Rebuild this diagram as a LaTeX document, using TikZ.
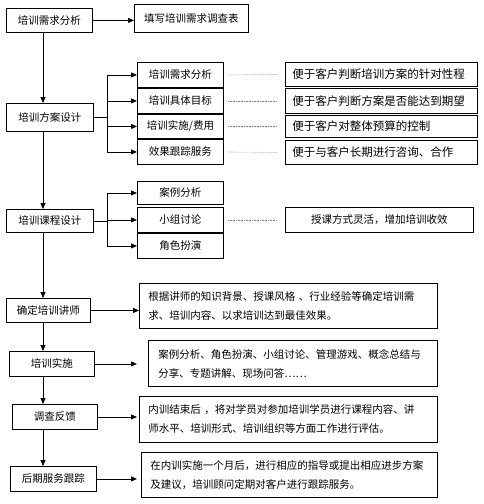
\documentclass[tikz,border=0pt]{standalone}
\usepackage{fontspec}
\setmainfont{Noto Sans CJK SC}
\usetikzlibrary{arrows.meta}
\begin{document}
\begin{tikzpicture}[x=1pt,y=-1pt,
  bx/.style={draw, line width=0.9pt, inner sep=0pt, anchor=north west, font=\fontsize{10.5}{19}\selectfont},
  tb/.style={bx, align=left, inner xsep=9pt},
  rb/.style={tb, inner xsep=7pt, text width=178pt, font=\fontsize{11.5}{19}\selectfont},
  arr/.style={-{Triangle[length=6pt,width=5pt]}, line width=0.8pt},
  ln/.style={line width=0.8pt},
  dotln/.style={densely dotted, gray, line width=0.6pt, shorten <=4pt, shorten >=8pt}]
\useasboundingbox (0,0) rectangle (483,504);
\coordinate (spine) at (43,0);
\coordinate (bus2) at (107,0);
\coordinate (bus3) at (107,0);
% main column
\node[bx, minimum width=86pt, minimum height=24pt] (m1) at (6,8) {培训需求分析};
\node[bx, minimum width=114pt, minimum height=28pt] (f1) at (134,4) {填写培训需求调查表};
\node[bx, minimum width=87pt, minimum height=28pt] (m2) at (6,103) {培训方案设计};
\node[bx, minimum width=87pt, minimum height=23pt] (m3) at (6,209) {培训课程设计};
\node[bx, minimum width=84pt, minimum height=24pt] (m4) at (6,298) {确定培训讲师};
\node[bx, minimum width=85pt, minimum height=25pt] (m5) at (9,351) {培训实施};
\node[bx, minimum width=85pt, minimum height=25pt] (m6) at (12,404) {调查反馈};
\node[bx, minimum width=86pt, minimum height=25pt] (m7) at (10,466) {后期服务跟踪};
% group 2
\node[bx, minimum width=86pt, minimum height=25pt] (s21) at (137,62) {培训需求分析};
\node[bx, minimum width=86pt, minimum height=25pt] (s22) at (137,88) {培训具体目标};
\node[bx, minimum width=86pt, minimum height=24pt] (s23) at (137,114) {培训实施/费用};
\node[bx, minimum width=86pt, minimum height=25pt] (s24) at (137,139) {效果跟踪服务};
\node[rb, minimum height=24pt] (r21) at (285,62) {便于客户判断培训方案的针对性程};
\node[rb, minimum height=25pt] (r22) at (285,88) {便于客户判断方案是否能达到期望};
\node[rb, minimum height=22pt] (r23) at (285,115) {便于客户对整体预算的控制};
\node[rb, minimum height=24pt] (r24) at (285,140) {便于与客户长期进行咨询、合作};
% group 3
\node[bx, minimum width=86pt, minimum height=23pt] (s31) at (137,181) {案例分析};
\node[bx, minimum width=86pt, minimum height=25pt] (s32) at (137,207) {小组讨论};
\node[bx, minimum width=86pt, minimum height=25pt] (s33) at (137,233) {角色扮演};
\node[bx, minimum width=188pt, minimum height=25pt] (r3) at (285,207) {授课方式灵活，增加培训收效};
% text boxes
\node[tb, text width=280pt, minimum height=45pt] (t4) at (139,283) {根据讲师的知识背景、授课风格 、行业经验等确定培训需\\求、培训内容、以求培训达到最佳效果。};
\node[tb, inner xsep=10pt, text width=269pt, minimum height=46pt] (t5) at (148,340) {案例分析、角色扮演、小组讨论、管理游戏、概念总结与\\分享、专题讲解、现场问答……};
\node[tb, text width=280pt, minimum height=46pt] (t6) at (139,396) {内训结束后 ，将对学员对参加培训学员进行课程内容、讲\\师水平、培训形式、培训组织等方面工作进行评估。};
\node[tb, text width=278pt, minimum height=45pt] (t7) at (141,452) {在内训实施一个月后，进行相应的指导或提出相应进步方案\\及建议，培训顾问定期对客户进行跟踪服务。};
% spine
\draw[arr] (m1.south -| spine) -- (m2.north -| spine);
\draw[arr] (m2.south -| spine) -- (m3.north -| spine);
\draw[arr] (m3.south -| spine) -- (m4.north -| spine);
\draw[arr] (m4.south -| spine) -- (m5.north -| spine);
\draw[arr] (m5.south -| spine) -- (m6.north -| spine);
\draw[arr] (m6.south -| spine) -- (m7.north -| spine);
% side arrows
\draw[arr] (m1.east) -- (m1.east -| f1.west);
\draw[arr] (m4.east) -- (m4.east -| t4.west);
\draw[arr, shorten >=11pt] (m5.east) -- (m5.east -| t5.west);
\draw[arr, shorten >=2pt] (m6.east) -- (m6.east -| t6.west);
\draw[arr, shorten >=4pt] (m7.east) -- (m7.east -| t7.west);
% branch 2
\draw[ln] (m2.east) -- (m2.east -| bus2);
\draw[ln] (bus2 |- s21.west) -- (bus2 |- s24.west);
\foreach \s in {s21,s22,s23,s24} \draw[arr] (bus2 |- \s.west) -- (\s.west);
\draw[dotln] (s21.east) -- (r21.west);
\draw[dotln] (s22.east) -- (r22.west);
\draw[dotln] (s23.east) -- (r23.west);
\draw[dotln] (s24.east) -- (r24.west);
% branch 3
\draw[ln] (m3.east) -- (m3.east -| bus3);
\draw[ln] (bus3 |- s31.west) -- (bus3 |- s33.west);
\foreach \s in {s31,s32,s33} \draw[arr] (bus3 |- \s.west) -- (\s.west);
\draw[dotln] (s32.east) -- (r3.west);
\end{tikzpicture}
\end{document}
